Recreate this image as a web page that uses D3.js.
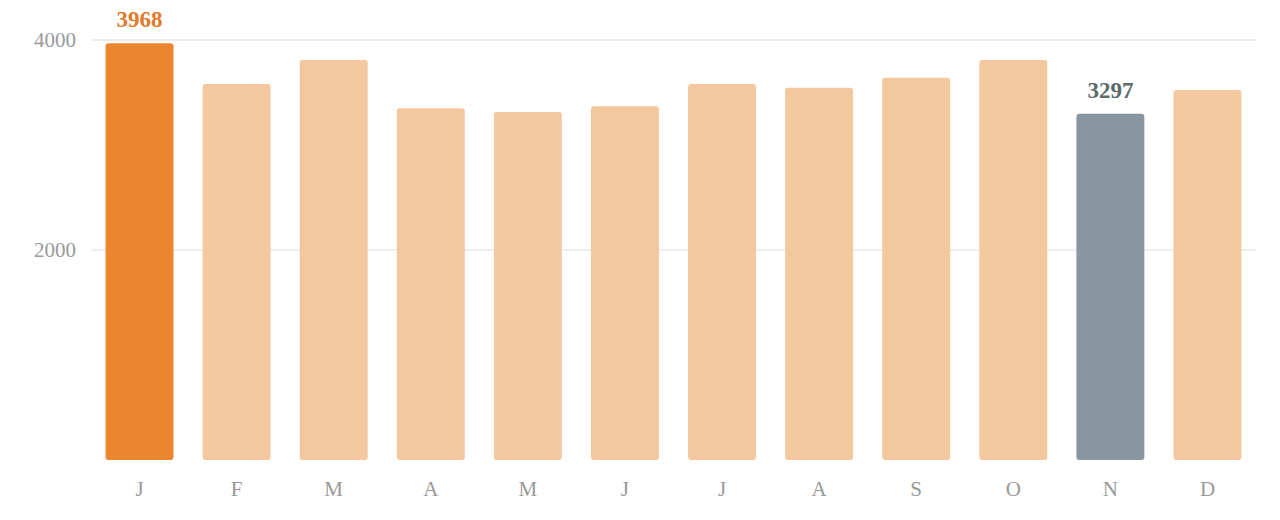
<!DOCTYPE html>
<html>
<head>
<meta charset="utf-8">
<script src="https://cdn.jsdelivr.net/npm/d3@7"></script>
<style>
  body { margin: 0; background: #fff; }
  text { font-family: "Liberation Serif", "DejaVu Serif", serif; }
</style>
</head>
<body>
<div id="chart"></div>
<script>
// month letters and values
var months = ["J", "F", "M", "A", "M", "J", "J", "A", "S", "O", "N", "D"];
var values = [3968, 3580, 3810, 3350, 3315, 3370, 3580, 3545, 3640, 3810, 3297, 3525];
var yTicks = [2000, 4000];
var maxIndex = 0;   // highlighted (highest)
var minIndex = 10;  // highlighted (lowest)

function init(){
  var w = 1280, h = 520;

  var svg = d3.select("#chart")
    .append("svg")
    .attr("width", w)
    .attr("height", h);

  // band scale on index so repeated letters stay separate
  var xScale = d3.scaleBand()
    .domain(d3.range(months.length))
    .range([91, 1256])
    .paddingInner(0.3)
    .paddingOuter(0.15);

  var yScale = d3.scaleLinear()
    .domain([0, 4000])
    .range([460, 40]);

  // gridlines
  svg.append("g")
    .selectAll("line")
    .data(yTicks)
    .enter()
    .append("line")
    .attr("x1", 92)
    .attr("x2", 1256)
    .attr("y1", function(d){ return yScale(d); })
    .attr("y2", function(d){ return yScale(d); })
    .attr("stroke", "#e8e8e8")
    .attr("stroke-width", 1.5);

  // y labels
  var yAxis = d3.axisLeft(yScale)
    .tickValues(yTicks)
    .tickFormat(d3.format("d"))
    .tickSize(0)
    .tickPadding(0);
  var gy = svg.append("g")
    .attr("transform", "translate(76,0)")
    .call(yAxis);
  gy.select(".domain").remove();
  gy.selectAll("text")
    .attr("fill", "#999")
    .style("font-size", "21px")
    .style("font-family", "Liberation Serif, serif");

  // bars
  function barColor(i){
    if (i === maxIndex) return "#eb852f";
    if (i === minIndex) return "#8a969f";
    return "#f3c89e";
  }

  svg.selectAll("rect.bar")
    .data(values)
    .enter()
    .append("rect")
    .attr("class", "bar")
    .attr("x", function(d, i){ return xScale(i); })
    .attr("y", function(d){ return yScale(d); })
    .attr("width", xScale.bandwidth())
    .attr("height", function(d){ return yScale(0) - yScale(d); })
    .attr("rx", 3)
    .attr("fill", function(d, i){ return barColor(i); });

  // x labels
  var xAxis = d3.axisBottom(xScale)
    .tickFormat(function(i){ return months[i]; })
    .tickSize(0)
    .tickPadding(0);
  var gx = svg.append("g")
    .attr("transform", "translate(0,496)")
    .call(xAxis);
  gx.select(".domain").remove();
  gx.selectAll("text")
    .attr("dy", 0)
    .attr("fill", "#999")
    .style("font-size", "21px")
    .style("font-family", "Liberation Serif, serif");

  // value labels for highlighted bars
  var labelled = [
    { i: maxIndex, color: "#e07a28" },
    { i: minIndex, color: "#5d6a6a" }
  ];
  svg.selectAll("text.val")
    .data(labelled)
    .enter()
    .append("text")
    .attr("class", "val")
    .attr("x", function(d){ return xScale(d.i) + xScale.bandwidth() / 2; })
    .attr("y", function(d){ return yScale(values[d.i]) - 16; })
    .attr("text-anchor", "middle")
    .attr("fill", function(d){ return d.color; })
    .style("font-size", "23px")
    .style("font-weight", "bold")
    .text(function(d){ return values[d.i]; });
}

window.onload = init;
</script>
</body>
</html>
